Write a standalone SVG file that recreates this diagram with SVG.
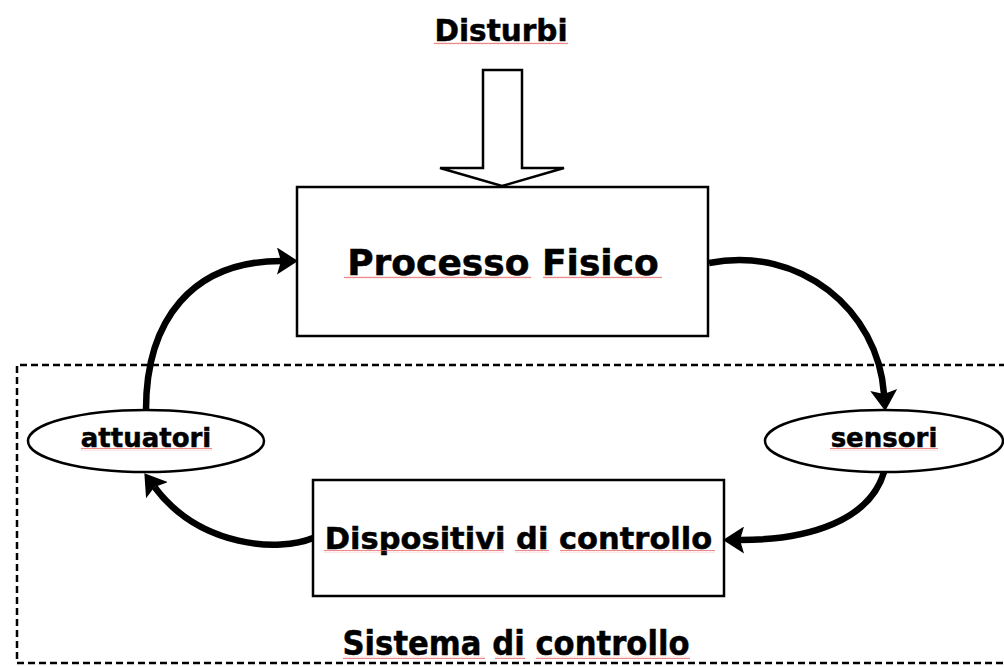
<svg xmlns="http://www.w3.org/2000/svg" width="1004" height="667" viewBox="0 0 1004 667">
<style>
  .lbl { font-family: "DejaVu Sans", Verdana, "Liberation Sans", sans-serif; font-weight: bold; fill: #000; stroke: #000; stroke-width: 0.5; text-anchor: middle; }
  .box { fill: #fff; stroke: #000; stroke-width: 2.5; }
  .conn { fill: none; stroke: #000; stroke-width: 6.5; marker-end: url(#ah); }
  .sq { fill: url(#squig); }
</style>
<defs>
  <marker id="ah" viewBox="0 0 21 27" refX="4" refY="13.5" markerWidth="21" markerHeight="27" markerUnits="userSpaceOnUse" orient="auto">
    <path d="M0,0 L21,13.5 L0,27 L4,13.5 Z" fill="#000"/>
  </marker>
  <pattern id="squig" width="4" height="3" patternUnits="userSpaceOnUse">
    <path d="M0,2.2 L1,0.8 L2,2.2 L3,0.8 L4,2.2" fill="none" stroke="#e86a6a" stroke-width="0.8"/>
  </pattern>
</defs>
<rect width="1004" height="667" fill="#fff"/>

<g id="sistema-controllo">
  <path d="M1006,365 L17,365 L17,663 L1006,663" fill="none" stroke="#000" stroke-width="2.5" stroke-dasharray="7,4"/>
  <text class="lbl" x="516" y="655" font-size="34" textLength="347" lengthAdjust="spacingAndGlyphs">Sistema di controllo</text>
  <rect class="sq" x="343" y="656" width="142" height="3"/>
  <rect class="sq" x="495" y="656" width="30" height="3"/>
  <rect class="sq" x="536" y="656" width="154" height="3"/>
</g>

<g id="disturbi">
  <text class="lbl" x="501" y="41" font-size="29.5">Disturbi</text>
  <rect class="sq" x="434" y="42" width="134" height="3"/>
  <path d="M483,70 L522,70 L522,168 L564,168 L502,186 L440,168 L483,168 Z" fill="#fff" stroke="#000" stroke-width="2.5"/>
</g>

<g id="processo-fisico">
  <rect class="box" x="297" y="187" width="411" height="149"/>
  <text class="lbl" x="503" y="275" font-size="36">Processo Fisico</text>
  <rect class="sq" x="344" y="276" width="187" height="3"/>
  <rect class="sq" x="543" y="276" width="119" height="3"/>
</g>

<g id="attuatori">
  <ellipse class="box" cx="146" cy="441" rx="118" ry="31"/>
  <text class="lbl" x="146" y="447" font-size="26">attuatori</text>
  <rect class="sq" x="81" y="448" width="131" height="3"/>
</g>

<g id="sensori">
  <ellipse class="box" cx="884" cy="441" rx="119" ry="31"/>
  <text class="lbl" x="884" y="447" font-size="26">sensori</text>
  <rect class="sq" x="830" y="448" width="108" height="3"/>
</g>

<g id="dispositivi-controllo">
  <rect class="box" x="313" y="480" width="411" height="116"/>
  <text class="lbl" x="518.5" y="549" font-size="30.5">Dispositivi di controllo</text>
  <rect class="sq" x="324" y="550" width="180" height="3"/>
  <rect class="sq" x="515" y="550" width="34" height="3"/>
  <rect class="sq" x="560" y="550" width="155" height="3"/>
</g>

<g id="connectors">
  <path class="conn" d="M146,410 C146,320 192,261 281,261"/>
  <path class="conn" d="M709,263 C800,245 878,310 884,394"/>
  <path class="conn" d="M884,472 C870,520 810,540 740,540"/>
  <path class="conn" d="M313,538 C280,552 200,548 154.5,487"/>
</g>
</svg>
